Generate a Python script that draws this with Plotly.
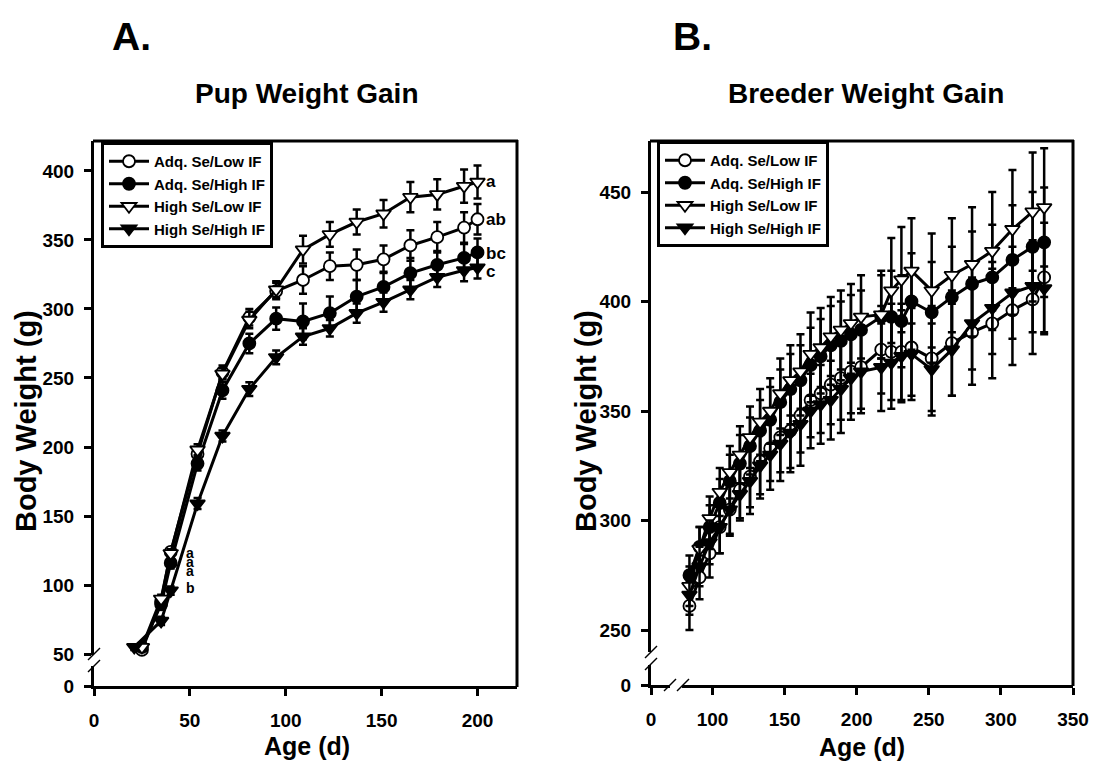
import plotly.graph_objects as go

W, H = 1093, 762
def X(px): return px / W
def Y(py): return 1 - py / H

FONT = "Liberation Sans, Arial, sans-serif"

# ---------------- Panel A data (Pup weight gain) ----------------
agesA = [25, 35, 40, 54, 67, 81, 95, 109, 123, 137, 151, 165, 179, 193, 200]
agesA_hh = [21, 35, 40, 54, 67, 81, 95, 109, 123, 137, 151, 165, 179, 193, 200]
adqLow_A = [53, 88, 124, 195, 254, 294, 313, 321, 331, 332, 336, 346, 352, 359, 365]
adqHigh_A = [55, 86, 116, 188, 241, 275, 293, 291, 297, 309, 316, 326, 332, 337, 341]
highLow_A = [55, 90, 123, 198, 253, 292, 314, 343, 354, 363, 369, 381, 383, 389, 392]
highHigh_A = [55, 74, 96, 159, 208, 242, 265, 280, 286, 297, 305, 314, 323, 328, 330]
errAdqLow_A = [2, 3, 3, 4, 5, 6, 6, 10, 10, 11, 10, 11, 11, 11, 11]
errAdqHigh_A = [2, 3, 4, 5, 6, 7, 8, 13, 12, 12, 11, 11, 10, 10, 10]
errHighLow_A = [2, 3, 3, 4, 4, 6, 6, 10, 9, 9, 10, 11, 11, 12, 12]
errHighHigh_A = [2, 3, 3, 4, 4, 5, 5, 6, 6, 7, 7, 7, 7, 8, 8]
letters_end_A = ["ab", "bc", "a", "c"]
letters_end_shift = [0, -1.5, 0, -3.5]
letters_early_A = ["a", "a", "a", "b"]
letters_early_y = [123.5, 117, 110.5, 97.5]

# ---------------- Panel B data (Breeder weight gain) ----------------
agesB = [84, 91, 98, 105, 112, 119, 126, 133, 140, 147, 154, 161, 168, 175, 182,
         189, 196, 203, 217, 224, 231, 238, 252, 266, 280, 294, 308, 322, 330]
adqLow_B = [261, 274, 285, 297, 305, 314, 320, 327, 333, 338, 341, 348, 355, 358, 362,
            365, 368, 370, 378, 377, 377, 379, 374, 381, 386, 390, 396, 401, 411]
adqHigh_B = [275, 288, 297, 308, 318, 326, 334, 341, 346, 354, 360, 364, 371, 375, 380,
             382, 385, 387, 393, 393, 391, 400, 395, 402, 408, 411, 419, 425, 427]
highLow_B = [270, 287, 301, 313, 322, 330, 338, 345, 350, 358, 364, 368, 376, 379, 384,
             387, 390, 393, 394, 405, 410, 414, 405, 412, 417, 423, 433, 441, 443]
highHigh_B = [266, 279, 290, 297, 305, 312, 318, 325, 330, 335, 340, 344, 350, 353, 355,
              360, 365, 368, 370, 372, 375, 376, 369, 378, 390, 397, 404, 407, 406]
errAdqLow_B = [11, 10, 11, 12, 12, 13, 14, 15, 15, 16, 17, 17, 17, 18, 18,
               19, 19, 19, 20, 22, 22, 22, 24, 24, 24, 25, 25, 25, 25]
errAdqHigh_B = [9, 9, 10, 11, 12, 13, 13, 14, 15, 15, 16, 16, 17, 17, 18,
                18, 18, 18, 19, 21, 21, 22, 23, 23, 24, 24, 25, 25, 25]
errHighLow_B = [9, 10, 10, 11, 12, 13, 14, 15, 15, 16, 16, 17, 19, 18, 18,
                18, 18, 19, 20, 24, 24, 24, 26, 26, 26, 27, 27, 27, 27]
errHighHigh_B = [9, 9, 10, 12, 11, 12, 15, 15, 16, 17, 18, 19, 17, 18, 18,
                 20, 19, 19, 20, 21, 21, 21, 21, 21, 21, 21, 21, 21, 21]

names = ["Adq. Se/Low IF", "Adq. Se/High IF", "High Se/Low IF", "High Se/High IF"]
symbols = ["circle", "circle", "triangle-down", "triangle-down"]
fills = ["white", "black", "white", "black"]
sizes = [12, 12, 13, 13]

ticksA_x = [0, 50, 100, 150, 200]
ticksA_y = [50, 100, 150, 200, 250, 300, 350, 400]
ticksB_x = [100, 150, 200, 250, 300, 350]
ticksB_y = [250, 300, 350, 400, 450]

fig = go.Figure()

seriesA = [(agesA, adqLow_A, errAdqLow_A), (agesA, adqHigh_A, errAdqHigh_A),
           (agesA, highLow_A, errHighLow_A), (agesA_hh, highHigh_A, errHighHigh_A)]
seriesB = [(agesB, adqLow_B, errAdqLow_B), (agesB, adqHigh_B, errAdqHigh_B),
           (agesB, highLow_B, errHighLow_B), (agesB, highHigh_B, errHighHigh_B)]

for i, (xs, ys, es) in enumerate(seriesA):
    fig.add_trace(go.Scatter(
        x=xs, y=ys, name=names[i], mode="lines+markers", xaxis="x", yaxis="y",
        legend="legend", cliponaxis=False,
        line=dict(color="black", width=3),
        marker=dict(symbol=symbols[i], size=sizes[i], color=fills[i],
                    line=dict(color="black", width=1.8)),
        error_y=dict(type="data", array=es, color="black", thickness=2.5, width=4),
    ))
for i, (xs, ys, es) in enumerate(seriesB):
    fig.add_trace(go.Scatter(
        x=xs, y=ys, name=names[i], mode="lines+markers", xaxis="x3", yaxis="y3",
        legend="legend2", cliponaxis=False,
        line=dict(color="black", width=3),
        marker=dict(symbol=symbols[i], size=sizes[i], color=fills[i],
                    line=dict(color="black", width=1.8)),
        error_y=dict(type="data", array=es, color="black", thickness=2.5, width=4),
    ))

# empty traces so that the short "broken axis" segments are registered
for xa, ya in [("x", "y2"), ("x4", "y4"), ("x4", "y3"), ("x3", "y4")]:
    fig.add_trace(go.Scatter(x=[], y=[], xaxis=xa, yaxis=ya, showlegend=False,
                             hoverinfo="skip", mode="markers"))

tickfont = dict(family=FONT, size=19, color="black", weight="bold")
axcommon = dict(showline=True, linecolor="black", linewidth=3, ticks="outside",
                ticklen=7, tickwidth=2.5, tickcolor="black", showgrid=False,
                zeroline=False, tickfont=tickfont, autorange=False, automargin=False)

legfont = dict(family=FONT, size=15, color="black", weight="bold")
layout = dict(
    autosize=True, margin=dict(l=0, r=0, t=0, b=0, pad=0),
    paper_bgcolor="white", plot_bgcolor="rgba(0,0,0,0)", showlegend=True,
    # Panel A
    xaxis=dict(domain=[X(94), X(517)], range=[0, 220.6], anchor="y2",
               tickvals=ticksA_x, ticklabelstandoff=8, **axcommon),
    yaxis=dict(domain=[Y(655), Y(141)], range=[49.3, 421.7], anchor="x",
               tickvals=ticksA_y, ticklabelstandoff=6, **axcommon),
    yaxis2=dict(domain=[Y(686), Y(666)], range=[0, 14.5], anchor="x",
                tickvals=[0], ticklabelstandoff=6, **axcommon),
    # Panel B
    xaxis3=dict(domain=[X(682), X(1073)], range=[100 - (712.5 - 682) / 1.4412, 350],
                anchor="y4", tickvals=ticksB_x, ticklabelstandoff=8, **axcommon),
    xaxis4=dict(domain=[X(651), X(670)], range=[0, 19 / 1.4412], anchor="y4",
                tickvals=[0], ticklabelstandoff=8, **axcommon),
    yaxis3=dict(domain=[Y(652), Y(141)], range=[250 - (652 - 630) / 2.19, 250 + (630 - 141) / 2.19],
                anchor="x4", tickvals=ticksB_y, ticklabelstandoff=6, **axcommon),
    yaxis4=dict(domain=[Y(685), Y(665)], range=[0, 20 / 2.19], anchor="x4",
                tickvals=[0], ticklabelstandoff=6, **axcommon),
    legend=dict(x=X(101), y=Y(142), xanchor="left", yanchor="top",
                bgcolor="white", bordercolor="black", borderwidth=3,
                font=legfont, tracegroupgap=0, itemwidth=40),
    legend2=dict(x=X(657), y=Y(141), xanchor="left", yanchor="top",
                 bgcolor="white", bordercolor="black", borderwidth=3,
                 font=legfont, tracegroupgap=0, itemwidth=40),
)
fig.update_layout(**layout)

# Frame lines (top and right) and axis-break slashes
def pline(x0, y0, x1, y1, w=3):
    fig.add_shape(type="line", xref="paper", yref="paper",
                  x0=X(x0), y0=Y(y0), x1=X(x1), y1=Y(y1),
                  line=dict(color="black", width=w))

pline(93, 141, 518, 141)
pline(517, 140, 517, 687)
pline(650, 141, 1074, 141)
pline(1073, 140, 1073, 686)
# break marks panel A (y)
pline(88, 660, 100, 648, 1.5)
pline(88, 672, 100, 660, 1.5)
# break marks panel B (y)
pline(645, 658, 657, 646, 1.5)
pline(645, 670, 657, 658, 1.5)
# break marks panel B (x)
pline(664, 691, 676, 679, 1.5)
pline(677, 691, 689, 679, 1.5)

bold = lambda s: dict(family=FONT, size=s, color="black", weight="bold")
ann = []
ann.append(dict(text="A.", x=X(110), y=Y(36), xref="paper", yref="paper",
                xanchor="left", yanchor="middle", showarrow=False, font=bold(39)))
ann.append(dict(text="B.", x=X(671), y=Y(36), xref="paper", yref="paper",
                xanchor="left", yanchor="middle", showarrow=False, font=bold(39)))
ann.append(dict(text="Pup Weight Gain", x=X(306), y=Y(93), xref="paper", yref="paper",
                xanchor="center", yanchor="middle", showarrow=False, font=bold(28)))
ann.append(dict(text="Breeder Weight Gain", x=X(866), y=Y(93), xref="paper", yref="paper",
                xanchor="center", yanchor="middle", showarrow=False, font=bold(28)))
ann.append(dict(text="Body Weight (g)", x=X(26), y=Y(421), xref="paper", yref="paper",
                textangle=-90, xanchor="center", yanchor="middle", showarrow=False, font=bold(29)))
ann.append(dict(text="Body Weight (g)", x=X(586), y=Y(421), xref="paper", yref="paper",
                textangle=-90, xanchor="center", yanchor="middle", showarrow=False, font=bold(29)))
ann.append(dict(text="Age (d)", x=X(307), y=Y(746), xref="paper", yref="paper",
                xanchor="center", yanchor="middle", showarrow=False, font=bold(25)))
ann.append(dict(text="Age (d)", x=X(862), y=Y(747), xref="paper", yref="paper",
                xanchor="center", yanchor="middle", showarrow=False, font=bold(25)))

# significance letters at the end of panel A
end_vals = [adqLow_A[-1], adqHigh_A[-1], highLow_A[-1], highHigh_A[-1]]
for lt, yv, sh in zip(letters_end_A, end_vals, letters_end_shift):
    ann.append(dict(text=lt, x=agesA[-1] + 3.5, y=yv, xref="x", yref="y", yshift=sh,
                    xanchor="left", yanchor="middle", showarrow=False, font=bold(17)))
for lt, yv in zip(letters_early_A, letters_early_y):
    ann.append(dict(text=lt, x=47, y=yv, xref="x", yref="y",
                    xanchor="left", yanchor="middle", showarrow=False, font=bold(14)))

fig.update_layout(annotations=ann)

# Figure size comes from the div; the div is pinned to the viewport's top-left
# corner so the page body margin does not shift or overflow it.
fig.write_html("out.html", config={"displayModeBar": False, "responsive": True},
               default_width="1093px",
               default_height="762px;position:fixed;top:0;left:0;margin:0")
